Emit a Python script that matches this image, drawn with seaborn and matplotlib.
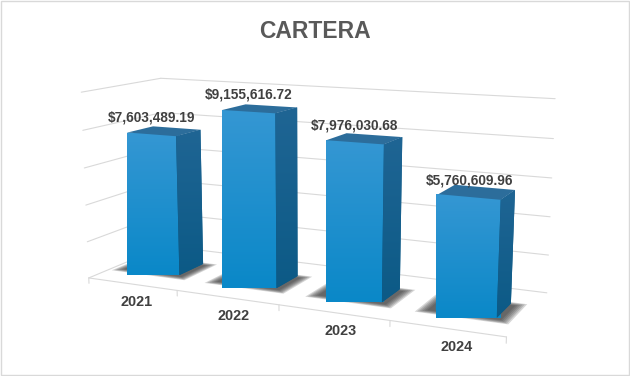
import numpy as np
import matplotlib
matplotlib.use("Agg")
import matplotlib.pyplot as plt
import matplotlib.transforms as mtransforms
from matplotlib.patches import Polygon, Rectangle
from matplotlib.lines import Line2D
from matplotlib.colors import LinearSegmentedColormap
import seaborn as sns

# ---------------- data ----------------
years = ["2021", "2022", "2023", "2024"]
values = [7603489.19, 9155616.72, 7976030.68, 5760609.96]
grid_values = [0, 2e6, 4e6, 6e6, 8e6, 10e6]
title = "CARTERA"

# ---------------- style ----------------
sns.set_style("white")
FONT = ["Liberation Sans", "DejaVu Sans"]
plt.rcParams["font.family"] = FONT

W, H = 630, 376
FRONT_TOP = "#3597d3"
FRONT_BOT = "#0a88c8"
SIDE_TOP = "#1f6594"
SIDE_BOT = "#0c5a86"
TOP_COL = "#2c6d9b"
GRID_COL = "#d9d9d9"
TEXT_COL = "#404040"

# ---------------- 3-D view (camera) ----------------
TH = np.radians(25.0)    # rotation about vertical axis
PH = np.radians(11.5)    # downward tilt
DIST = 10.0
FOC = 1140.0
U0, V0 = 311.6, 189.0
KY = 0.170 / 1e6          # world units per dollar
PIV = (1.5, 5e6 * 0.175 / 1e6, 0.65)
BAR_W = 0.52
Z_FRONT, Z_BACK = 0.43, 0.86   # bar depth range
FLOOR_Z = 1.3
X_MIN, X_MAX = -0.44, 3.46


def project(X, Y, Z):
    xc, yc, zc = X - PIV[0], Y - PIV[1], Z - PIV[2]
    x1 = xc * np.cos(TH) + zc * np.sin(TH)
    z1 = -xc * np.sin(TH) + zc * np.cos(TH)
    y2 = yc * np.cos(PH) + z1 * np.sin(PH)
    z2 = z1 * np.cos(PH) - yc * np.sin(PH)
    d = DIST + z2
    px = U0 + FOC * x1 / d
    py = V0 - FOC * y2 / d
    return np.column_stack([px / W, 1 - py / H])


class Proj(mtransforms.Transform):
    """Maps 2-D coordinates lying on a plane of the 3-D chart to figure fraction."""
    input_dims = 2
    output_dims = 2
    is_separable = False
    has_inverse = False

    def __init__(self, mode, const):
        super().__init__()
        self.mode = mode
        self.const = const

    def transform_non_affine(self, values):
        v = np.atleast_2d(np.asarray(values, dtype=float))
        a, b = v[:, 0], v[:, 1]
        c = np.full_like(a, self.const)
        if self.mode == "xy":        # (category, dollars) at depth const
            return project(a, b * KY, c)
        if self.mode == "xz":        # (category, depth) at height const dollars
            return project(a, c * KY, b)
        return project(c, b * KY, a)  # "zy": (depth, dollars) at category const


fig = plt.figure(figsize=(W / 100, H / 100), dpi=100)
fig.patch.set_facecolor("white")
ax = fig.add_axes([0, 0, 1, 1])
ax.set_axis_off()


def T(mode, const):
    return Proj(mode, const) + fig.transFigure


# ---------------- walls / gridlines ----------------
for gv in grid_values:
    ax.add_artist(Line2D([X_MIN, X_MAX], [gv, gv], transform=T("xy", FLOOR_Z),
                         color=GRID_COL, lw=0.8, zorder=0.5, clip_on=False))
    ax.add_artist(Line2D([0, FLOOR_Z], [gv, gv], transform=T("zy", X_MIN),
                         color=GRID_COL, lw=0.8, zorder=0.5, clip_on=False))
# floor front edge + ticks
ax.add_artist(Line2D([X_MIN, X_MAX], [0, 0], transform=T("xz", 0),
                     color=GRID_COL, lw=0.8, zorder=0.5, clip_on=False))
tick_pos = [X_MIN] + [k + 0.5 for k in range(len(years) - 1)] + [X_MAX]
for xt in tick_pos:
    ax.add_artist(Line2D([xt, xt], [0, -0.3e6], transform=T("xy", 0),
                         color=GRID_COL, lw=0.8, zorder=0.5, clip_on=False))

# ---------------- bars (seaborn) ----------------
sns.barplot(x=years, y=values, ax=ax, color=FRONT_BOT, saturation=1,
            width=BAR_W, errorbar=None, zorder=2)
bars = list(ax.patches)

cmap_f = LinearSegmentedColormap.from_list("front", [FRONT_TOP, FRONT_BOT])
cmap_s = LinearSegmentedColormap.from_list("side", [SIDE_TOP, SIDE_BOT])
grad = np.linspace(0, 1, 256).reshape(-1, 1)


def grad_fill(patch, corners, cmap, z):
    ext = (corners[:, 0].min(), corners[:, 0].max(), corners[:, 1].min(), corners[:, 1].max())
    im = ax.imshow(grad, cmap=cmap, extent=ext, origin="upper", aspect="auto",
                   interpolation="bilinear", zorder=z)
    im.set_transform(fig.transFigure)
    im.set_clip_path(patch)


for p in bars:
    x0 = p.get_x()
    x1 = x0 + p.get_width()
    h = p.get_height()
    p.set_transform(T("xy", Z_FRONT))
    p.set_edgecolor("none")
    p.set_clip_on(False)

    # soft shadow on the floor
    for s in range(6):
        e = 0.016 * (5 - s)
        sh = Polygon([[x0 - 0.06 - e, Z_FRONT - 0.045 - e], [x1 + 0.05 + e, Z_FRONT - 0.045 - e],
                      [x1 + 0.05 + e, Z_BACK - 0.04 + e], [x0 - 0.06 - e, Z_BACK - 0.04 + e]],
                     closed=True, transform=T("xz", 0), facecolor="#333333",
                     edgecolor="none", alpha=0.2, zorder=1, clip_on=False)
        ax.add_artist(sh)

    # gradient on the front face
    grad_fill(p, Proj("xy", Z_FRONT).transform(np.array([[x0, 0], [x1, 0], [x0, h], [x1, h]])),
              cmap_f, 2.1)

    # side face
    side = Polygon([[Z_FRONT, 0], [Z_BACK, 0], [Z_BACK, h], [Z_FRONT, h]], closed=True,
                   transform=T("zy", x1), facecolor=SIDE_BOT, edgecolor="none",
                   zorder=2.2, clip_on=False)
    ax.add_artist(side)
    grad_fill(side, Proj("zy", x1).transform(np.array([[Z_FRONT, 0], [Z_BACK, 0],
                                                          [Z_BACK, h], [Z_FRONT, h]])),
              cmap_s, 2.25)
    # top face
    top = Polygon([[x0, Z_FRONT], [x1, Z_FRONT], [x1, Z_BACK], [x0, Z_BACK]], closed=True,
                  transform=T("xz", h), facecolor=TOP_COL, edgecolor="none",
                  zorder=2.3, clip_on=False)
    ax.add_artist(top)

# ---------------- labels ----------------
for i, (yr, v) in enumerate(zip(years, values)):
    ax.annotate(f"${v:,.2f}", xy=(i, v), xycoords=T("xy", Z_FRONT),
                xytext=(0, 7), textcoords="offset points", ha="center", va="bottom",
                fontsize=9.8, fontweight="bold", color=TEXT_COL, family=FONT,
                zorder=5, annotation_clip=False)
    ax.annotate(yr, xy=(i, 0), xycoords=T("xz", 0),
                xytext=(5, -13), textcoords="offset points", ha="center", va="center",
                fontsize=10.4, fontweight="bold", color=TEXT_COL, family=FONT,
                zorder=5, annotation_clip=False)

fig.text(0.5, 1 - 32 / H, title, ha="center", va="center", fontsize=16.5,
         fontweight="bold", color="#595959", family=FONT)

fig.patches.append(Rectangle((0.001, 0.002), 0.997, 0.995, transform=fig.transFigure,
                             fill=False, edgecolor="#d9d9d9", lw=1))

fig.savefig("out.png", dpi=100)
